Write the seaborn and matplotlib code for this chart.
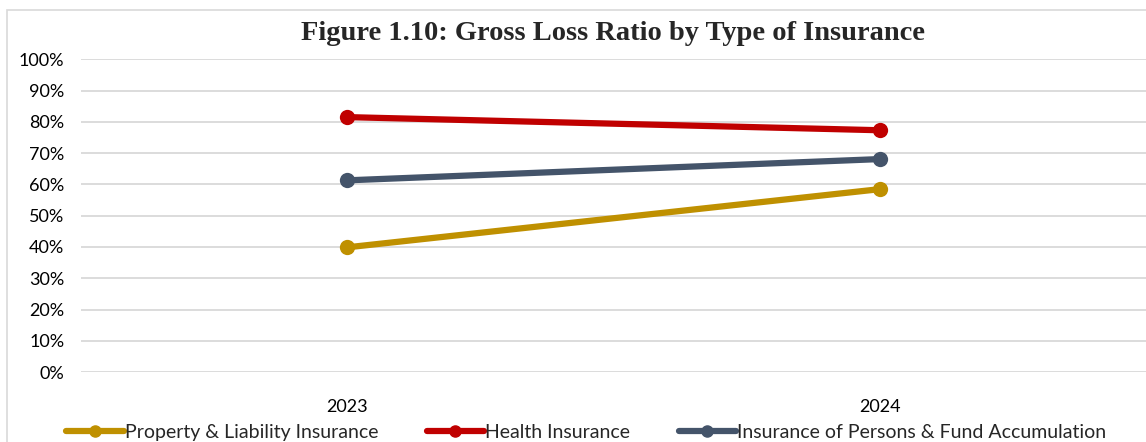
import matplotlib.pyplot as plt
import matplotlib.patches as mpatches
import matplotlib.ticker as mticker
import pandas as pd
import seaborn as sns

years = ['2023', '2024']
series_names = ['Property & Liability Insurance', 'Health Insurance',
                'Insurance of Persons & Fund Accumulation']
property_liability = [0.399, 0.585]
health = [0.815, 0.773]
persons_fund = [0.613, 0.681]
colors = ['#BF9000', '#C00000', '#44546A']

# long-form table for seaborn
rows = []
for name, vals in zip(series_names, [property_liability, health, persons_fund]):
    for yr, v in zip(years, vals):
        rows.append({'year': yr, 'ratio': v, 'type': name})
df = pd.DataFrame(rows)

sns.set_style('white')
plt.rcParams['font.family'] = ['Lato', 'DejaVu Sans']

fig = plt.figure(figsize=(11.46, 4.42), dpi=100)
ax = fig.add_axes([0.0707, 0.158, 0.93, 0.708])

# light frame around the chart area
fig.patches.append(mpatches.Rectangle((0.006, -0.05), 1.2, 1.027, transform=fig.transFigure,
                                      fill=False, edgecolor='#D9D9D9', linewidth=1.2))

sns.lineplot(data=df, x='year', y='ratio', hue='type', palette=colors,
             marker='o', markersize=11, markeredgewidth=0, linewidth=4.5,
             ax=ax, legend=False)

ax.set_xlim(-0.5, 1.5)
ax.set_ylim(0, 1.0)
ax.yaxis.set_major_locator(mticker.MultipleLocator(0.1))
ax.yaxis.set_major_formatter(mticker.PercentFormatter(1.0, decimals=0))
ax.grid(axis='y', color='#D9D9D9', linewidth=1.3)
ax.set_axisbelow(True)
for s in ax.spines.values():
    s.set_visible(False)
ax.tick_params(axis='both', length=0, labelsize=13, colors='#000000')
ax.tick_params(axis='x', pad=19)
ax.tick_params(axis='y', pad=12)
ax.set_xlabel('')
ax.set_ylabel('')

fig.text(0.535, 0.925, 'Figure 1.10: Gross Loss Ratio by Type of Insurance',
         ha='center', va='center', fontsize=20.5, fontweight='bold',
         family=['Liberation Serif', 'DejaVu Serif'])

handles = [plt.Line2D([], [], color=c, linewidth=4.5, marker='o', markersize=8)
           for c in colors]
fig.legend(handles, series_names, loc='center left', bbox_to_anchor=(0.051, 0.022),
           ncol=3, frameon=False, fontsize=14, handlelength=2.95,
           handletextpad=0.05, columnspacing=2.5, borderaxespad=0)

fig.savefig('out.png', dpi=100)
